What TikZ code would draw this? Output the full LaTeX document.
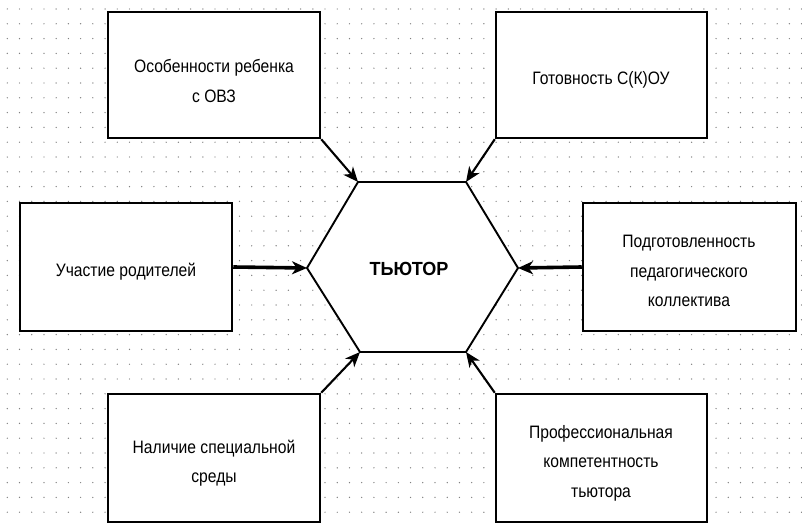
\documentclass[tikz,border=0pt]{standalone}
\usepackage{fontspec}
\setmainfont{Liberation Sans}
\usetikzlibrary{arrows.meta}
\definecolor{dotc}{HTML}{808080}
\tikzset{
  box/.style={draw=black, line width=2.5pt, fill=white, inner sep=0pt},
  txt/.style={align=center, inner sep=0pt, font=\fontsize{18}{29.5}\selectfont, xscale=0.87, transform shape},
  hexline/.style={draw=black, line width=1.9pt, fill=white, line join=miter},
  arr/.style={line width=2.1pt, -{Stealth[length=15pt,width=12.5pt,inset=4.5pt]}},
  thickarr/.style={line width=3.6pt, -{Stealth[length=15pt,width=13pt,inset=4.5pt]}}
}
\begin{document}
\begin{tikzpicture}[x=1pt,y=-1pt]
\useasboundingbox (0,0) rectangle (802,524);
\fill[white] (0,0) rectangle (802,524);
% dot grid
\foreach \i in {0,...,65}{
  \foreach \j in {0,...,34}{
    \fill[dotc] ({7.3+12.22*\i},{9+14.8*\j}) circle (0.7);
  }
}
% hexagon
\coordinate (hl) at (307,268);
\coordinate (htl) at (358,182);
\coordinate (htr) at (466,182);
\coordinate (hr) at (518,268);
\coordinate (hbr) at (466,352);
\coordinate (hbl) at (360,352);
\draw[hexline] (hl) -- (htl) -- (htr) -- (hr) -- (hbr) -- (hbl) -- cycle;
\node[font=\fontsize{19}{20}\selectfont\bfseries, xscale=0.95, transform shape] (tutor) at (409,268.5) {ТЬЮТОР};
% boxes
\node[box, minimum width=212, minimum height=126] (b1) at (214,75) {};
\node[box, minimum width=211, minimum height=126] (b2) at (601.5,75) {};
\node[box, minimum width=212, minimum height=128] (b3) at (126,267) {};
\node[box, minimum width=213, minimum height=128] (b4) at (689.5,267) {};
\node[box, minimum width=212, minimum height=128] (b5) at (214,458) {};
\node[box, minimum width=211, minimum height=128] (b6) at (601.5,458) {};
% texts
\node[txt] (t1) at (214,81) {Особенности ребенка\\с ОВЗ};
\node[txt] (t2) at (601,80) {Готовность С(К)ОУ};
\node[txt] (t3) at (126,272) {Участие родителей};
\node[txt] (t4) at (689,271) {Подготовленность\\педагогического\\коллектива};
\node[txt] (t5) at (214,463) {Наличие специальной\\среды};
\node[txt] (t6) at (601,463) {Профессиональная\\компетентность\\тьютора};
% arrows
\draw[arr] (b1.south east) -- (htl);
\draw[arr] (b2.south west) -- (htr);
\draw[thickarr] (b3.east) -- (hl);
\draw[thickarr] (b4.west) -- (hr);
\draw[arr] (b5.north east) -- (hbl);
\draw[arr] (b6.north west) -- (hbr);
\end{tikzpicture}
\end{document}
